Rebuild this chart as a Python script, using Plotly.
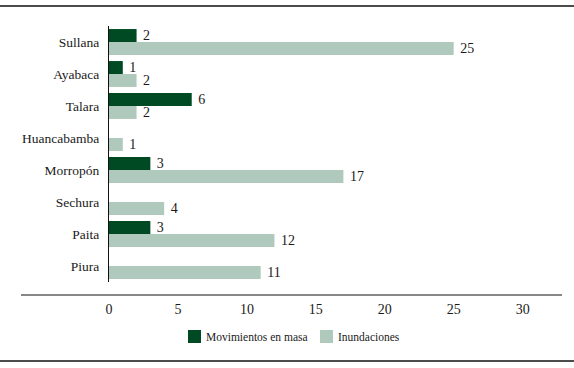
import plotly.graph_objects as go

provincias = ["Sullana", "Ayabaca", "Talara", "Huancabamba", "Morropón", "Sechura", "Paita", "Piura"]
movimientos = [2, 1, 6, 0, 3, 0, 3, 0]
inundaciones = [25, 2, 2, 1, 17, 4, 12, 11]
x_ticks = [0, 5, 10, 15, 20, 25, 30]
series_names = ["Movimientos en masa", "Inundaciones"]

FONT = "Liberation Serif"
DARK = "#004a23"
LIGHT = "#afcabc"
TXT = "#1a1a1a"

def lab(v):
    return ["\u00a0" + str(x) if x else "" for x in v]

fig = go.Figure()
fig.add_trace(go.Bar(y=provincias, x=movimientos, orientation="h", name=series_names[0],
                     marker=dict(color=DARK, line=dict(width=0)), text=lab(movimientos),
                     textposition="outside", cliponaxis=False, constraintext="none",
                     textfont=dict(family=FONT, size=14, color=TXT)))
fig.add_trace(go.Bar(y=provincias, x=inundaciones, orientation="h", name=series_names[1],
                     marker=dict(color=LIGHT, line=dict(width=0)), text=lab(inundaciones),
                     textposition="outside", cliponaxis=False, constraintext="none",
                     textfont=dict(family=FONT, size=14, color=TXT)))

L, R, T, B = 109, 10, 26, 86
W, H = 574, 368
pw = W - L - R
ph = H - T - B

def px_x(x):
    return (x - L) / pw

def px_y(y):
    return (H - B - y) / ph

shapes = [
    dict(type="line", xref="paper", yref="paper", x0=px_x(0), x1=px_x(W), y0=px_y(6), y1=px_y(6),
         line=dict(color="#111", width=1.5)),
    dict(type="line", xref="paper", yref="paper", x0=px_x(0), x1=px_x(W), y0=px_y(361), y1=px_y(361),
         line=dict(color="#111", width=1.5)),
    dict(type="line", xref="paper", yref="paper", x0=px_x(21), x1=px_x(562), y0=px_y(295), y1=px_y(295),
         line=dict(color="#111", width=1)),
]

# custom legend (symbol squares next to labels)
annotations = []
legend_items = [(188, DARK, series_names[0]), (320, LIGHT, series_names[1])]
for x0, col, name in legend_items:
    shapes.append(dict(type="rect", xref="paper", yref="paper",
                       x0=px_x(x0), x1=px_x(x0 + 13), y0=px_y(343), y1=px_y(330),
                       fillcolor=col, line=dict(width=0)))
    annotations.append(dict(xref="paper", yref="paper", x=px_x(x0 + 16), y=px_y(336.5),
                            xanchor="left", yanchor="middle", showarrow=False, text=name,
                            font=dict(family=FONT, size=11.5, color=TXT)))

fig.update_layout(
    width=W, height=H,
    margin=dict(l=L, r=R, t=T, b=B, autoexpand=False),
    paper_bgcolor="white", plot_bgcolor="white",
    barmode="group", bargap=0.19, bargroupgap=0,
    font=dict(family=FONT, size=14, color=TXT),
    shapes=shapes, annotations=annotations,
    showlegend=False,
    xaxis=dict(range=[0, 33], tickvals=x_ticks, ticktext=[str(t) for t in x_ticks],
               showgrid=False, zeroline=False, showline=False, automargin=False,
               ticks="outside", ticklen=14, tickcolor="rgba(0,0,0,0)",
               tickfont=dict(family=FONT, size=14, color=TXT)),
    yaxis=dict(autorange="reversed", showgrid=False, zeroline=False, automargin=False,
               showline=True, linecolor="#111", linewidth=1,
               ticks="outside", ticklen=6, tickcolor="rgba(0,0,0,0)",
               tickfont=dict(family=FONT, size=13.5, color=TXT)),
)

fig.write_html("out.html", config={"displayModeBar": False},
               post_script="document.body.style.margin='0';document.body.style.padding='0';")
